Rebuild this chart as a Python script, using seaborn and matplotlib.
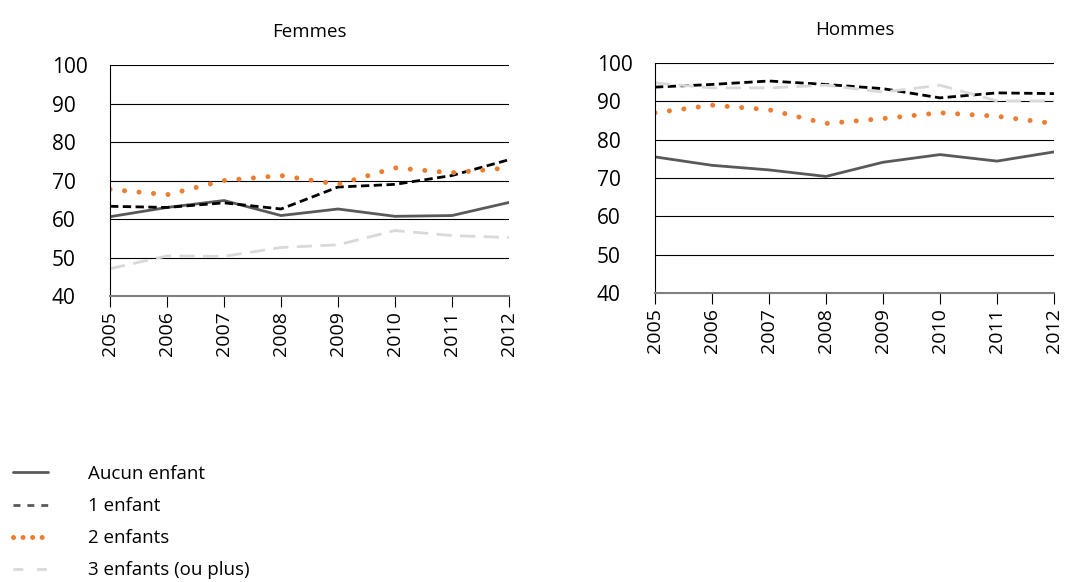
import matplotlib
matplotlib.use("Agg")
import matplotlib.pyplot as plt
from matplotlib.lines import Line2D
import pandas as pd
import seaborn as sns

years = [2005, 2006, 2007, 2008, 2009, 2010, 2011, 2012]
series_names = ["Aucun enfant", "1 enfant", "2 enfants", "3 enfants (ou plus)"]

femmes_aucun = [60.6, 63.0, 64.8, 60.9, 62.6, 60.7, 60.9, 64.3]
femmes_un = [63.3, 63.0, 64.2, 62.6, 68.3, 69.0, 71.3, 75.4]
femmes_deux = [67.7, 66.3, 70.0, 71.3, 69.0, 73.3, 72.0, 73.3]
femmes_trois = [47.1, 50.4, 50.3, 52.6, 53.3, 57.0, 55.7, 55.2]

hommes_aucun = [75.5, 73.3, 72.1, 70.4, 74.1, 76.1, 74.4, 76.8]
hommes_un = [93.7, 94.4, 95.3, 94.4, 93.3, 90.9, 92.2, 92.0]
hommes_deux = [87.0, 89.0, 87.8, 84.2, 85.5, 87.0, 86.1, 84.2]
hommes_trois = [94.8, 93.5, 93.5, 94.2, 92.4, 94.2, 90.1, 90.1]

y_ticks = [40, 50, 60, 70, 80, 90, 100]

styles = {
    "Aucun enfant": dict(color="#595959", linestyle="-", linewidth=2.0),
    "1 enfant": dict(color="#000000", linestyle=(0, (3, 1.6)), linewidth=2.0),
    "2 enfants": dict(color="#ED7D31", linestyle=(0, (0.01, 2.9)), linewidth=3.6,
                      dash_capstyle="round"),
    "3 enfants (ou plus)": dict(color="#D9D9D9", linestyle=(0, (5.5, 3)), linewidth=2.0),
}

sns.set_style("white")
plt.rcParams["font.family"] = ["Open Sans", "DejaVu Sans"]
plt.rcParams["text.color"] = "black"
plt.rcParams["xtick.color"] = "black"
plt.rcParams["ytick.color"] = "black"

fig = plt.figure(figsize=(10.65, 5.82), dpi=100)
ax_f = fig.add_axes([0.1033, 0.4914, 0.3746, 0.3969])
ax_h = fig.add_axes([0.6150, 0.4966, 0.3746, 0.3952])

panels = [
    (ax_f, "Femmes", [femmes_aucun, femmes_un, femmes_deux, femmes_trois]),
    (ax_h, "Hommes", [hommes_aucun, hommes_un, hommes_deux, hommes_trois]),
]

for ax, title, values in panels:
    for name, vals in zip(series_names, values):
        df = pd.DataFrame({"year": years, "value": vals})
        sns.lineplot(data=df, x="year", y="value", ax=ax, **styles[name])
    ax.set_xlim(years[0], years[-1])
    ax.set_ylim(40, 100)
    ax.set_yticks(y_ticks)
    ax.set_xticks(years)
    ax.set_xticklabels([str(y) for y in years], rotation=90, fontsize=14)
    ax.tick_params(axis="y", labelsize=15, length=0, pad=42, labelcolor="black")
    ax.tick_params(axis="x", direction="out", length=8, width=0.8, color="black",
                   bottom=True, pad=3, labelcolor="black")
    for t in y_ticks[1:]:
        ax.axhline(t, color="black", linewidth=0.8, zorder=0)
    for side in ["top", "right"]:
        ax.spines[side].set_visible(False)
    ax.spines["left"].set_color("black")
    ax.spines["left"].set_linewidth(0.8)
    ax.spines["bottom"].set_color("#7f7f7f")
    ax.spines["bottom"].set_linewidth(1.5)
    ax.set_xlabel("")
    ax.set_ylabel("")
    ax.set_title(title, fontsize=13.5, pad=20, color="black")
    for lbl in ax.get_yticklabels():
        lbl.set_horizontalalignment("left")
    if ax.get_legend():
        ax.get_legend().remove()

handles = [
    Line2D([0], [0], color="#595959", linestyle="-", linewidth=2.0),
    Line2D([0], [0], color="#595959", linestyle=(0, (2.5, 2.5)), linewidth=2.0),
    Line2D([0], [0], color="#ED7D31", linestyle=(0, (0.01, 1.9)), linewidth=3.6,
           dash_capstyle="round"),
    Line2D([0], [0], color="#D9D9D9", linestyle=(0, (3.5, 5)), linewidth=2.0),
]
fig.legend(handles, series_names, loc="lower left", bbox_to_anchor=(0.0094, 0.0),
           borderaxespad=0.0, borderpad=0.15, frameon=False, fontsize=13.5,
           handlelength=1.9, handletextpad=2.1, labelspacing=0.75)

fig.savefig("out.png", dpi=100)
